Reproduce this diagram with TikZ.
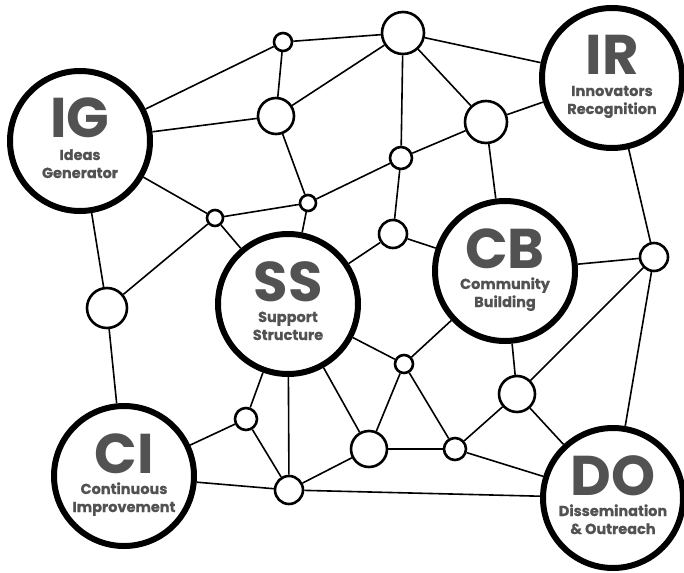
\documentclass[tikz,border=0pt]{standalone}
\usepackage{fontspec}
\setmainfont{Poppins}
\newfontfamily\capfont{Poppins}[BoldFeatures={FakeBold=0.6}]
\definecolor{hubtext}{HTML}{525252}
\begin{document}
\begin{tikzpicture}[x=1pt,y=-1pt,
  hub/.style={circle,draw=black,line width=6pt,fill=white,inner sep=0pt,minimum size=140pt},
  dot/.style={circle,draw=black,line width=2.6pt,fill=white,inner sep=0pt,minimum size=#1},
  link/.style={line width=1.6pt,black},
  initials/.style={anchor=base,text=hubtext,inner sep=0pt,font=\bfseries\fontsize{56}{56}\selectfont},
  caption/.style={anchor=base,text=hubtext,inner sep=0pt,text height=10.5pt,text depth=2pt,
    font=\capfont\bfseries\fontsize{14.5}{14.5}\selectfont}]
\useasboundingbox (0,0) rectangle (684,572);

% hub circles
\node[hub] (IG) at (80,141) {};
\node[hub] (IR) at (612,78) {};
\node[hub] (SS) at (288,304) {};
\node[hub] (CB) at (505,271) {};
\node[hub] (CI) at (124,476) {};
\node[hub] (DO) at (613,498) {};

% small junction circles
\node[dot=18pt] (a1) at (283,42) {};
\node[dot=36pt] (a2) at (276,116) {};
\node[dot=16pt] (a3) at (215,218) {};
\node[dot=16pt] (a4) at (308,203) {};
\node[dot=40pt] (a5) at (107,308) {};
\node[dot=42pt] (b1) at (403,33) {};
\node[dot=42pt] (b2) at (486,122) {};
\node[dot=22pt] (b3) at (401,158) {};
\node[dot=28pt] (b4) at (393,234) {};
\node[dot=28pt] (b5) at (654,257) {};
\node[dot=22pt] (c1) at (246,419) {};
\node[dot=28pt] (c2) at (289,490) {};
\node[dot=18pt] (d1) at (404,364) {};
\node[dot=36pt] (d2) at (517,394) {};
\node[dot=36pt] (d3) at (369,449) {};
\node[dot=22pt] (d4) at (455,449) {};

% connectors
\draw[link] (IG) -- (a1);  \draw[link] (IG) -- (a2);
\draw[link] (IG) -- (a3);  \draw[link] (IG) -- (a5);
\draw[link] (a1) -- (a2);  \draw[link] (a1) -- (b1);
\draw[link] (a2) -- (b1);  \draw[link] (a2) -- (a4);
\draw[link] (a3) -- (a4);  \draw[link] (a3) -- (a5);
\draw[link] (a3) -- (SS);  \draw[link] (a4) -- (SS);
\draw[link] (a4) -- (b3);
\draw[link] (b1) -- (IR);  \draw[link] (b1) -- (b3);
\draw[link] (b1) -- (b2);  \draw[link] (b2) -- (b3);
\draw[link] (b2) -- (IR);  \draw[link] (b2) -- (CB);
\draw[link] (b3) -- (b4);  \draw[link] (b4) -- (CB);
\draw[link] (b4) -- (SS);
\draw[link] (IR) -- (b5);  \draw[link] (CB) -- (b5);
\draw[link] (b5) -- (d2);  \draw[link] (b5) -- (DO);
\draw[link] (a5) -- (CI);
\draw[link] (CI) -- (c1);  \draw[link] (CI) -- (c2);
\draw[link] (c1) -- (SS);  \draw[link] (c1) -- (c2);
\draw[link] (c2) -- (SS);  \draw[link] (c2) -- (d3);
\draw[link] (c2) -- (DO);  \draw[link] (SS) -- (d3);
\draw[link] (SS) -- (d1);  \draw[link] (CB) -- (d1);
\draw[link] (d1) -- (d3);  \draw[link] (d1) -- (d4);
\draw[link] (d3) -- (d4);  \draw[link] (CB) -- (d2);
\draw[link] (d2) -- (d4);  \draw[link] (d2) -- (DO);
\draw[link] (d4) -- (DO);

% hub labels (yshift is upward on the canvas)
\node[initials] (IGa) at ([yshift=3pt]IG.center) {IG};
\node[caption]  (IGb) at ([yshift=-19pt]IG.center) {Ideas};
\node[caption]  (IGc) at ([yshift=-37pt]IG.center) {Generator};

\node[initials] (IRa) at ([yshift=3pt]IR.center) {IR};
\node[caption]  (IRb) at ([yshift=-18pt]IR.center) {Innovators};
\node[caption]  (IRc) at ([yshift=-36pt]IR.center) {Recognition};

\node[initials] (SSa) at ([yshift=3pt]SS.center) {SS};
\node[caption]  (SSb) at ([yshift=-18pt]SS.center) {Support};
\node[caption]  (SSc) at ([yshift=-36pt]SS.center) {Structure};

\node[initials] (CBa) at ([yshift=3pt]CB.center) {CB};
\node[caption]  (CBb) at ([yshift=-18pt]CB.center) {Community};
\node[caption]  (CBc) at ([yshift=-36pt]CB.center) {Building};

\node[initials] (CIa) at ([yshift=3pt]CI.center) {CI};
\node[caption]  (CIb) at ([yshift=-18pt]CI.center) {Continuous};
\node[caption]  (CIc) at ([yshift=-36pt]CI.center) {Improvement};

\node[initials] (DOa) at ([yshift=3pt]DO.center) {DO};
\node[caption]  (DOb) at ([yshift=-18pt]DO.center) {Dissemination};
\node[caption]  (DOc) at ([yshift=-36pt]DO.center) {\& Outreach};
\end{tikzpicture}
\end{document}
